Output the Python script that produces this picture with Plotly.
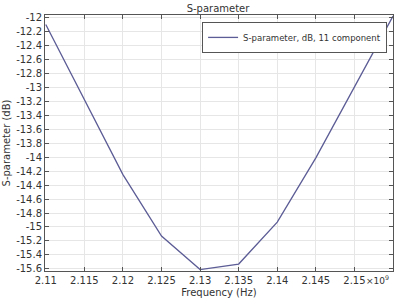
import plotly.graph_objects as go

freq = [2.11, 2.12, 2.125, 2.13, 2.135, 2.14, 2.145, 2.15, 2.155]
s11 = [-12.1, -14.25, -15.13, -15.61, -15.53, -14.93, -14.01, -13.0, -11.98]

xticks = [2.11, 2.115, 2.12, 2.125, 2.13, 2.135, 2.14, 2.145, 2.15]
xlabels = ["2.11", "2.115", "2.12", "2.125", "2.13", "2.135", "2.14", "2.145", "2.15"]
yticks = [-12, -12.2, -12.4, -12.6, -12.8, -13, -13.2, -13.4, -13.6, -13.8, -14,
          -14.2, -14.4, -14.6, -14.8, -15, -15.2, -15.4, -15.6]
ylabels = ["%g" % v for v in yticks]

font = "DejaVu Sans"
fig = go.Figure()
fig.add_trace(go.Scatter(x=freq, y=s11, mode="lines",
                         line=dict(color="#5c5c96", width=1.3),
                         name="S-parameter, dB, 11 component"))

axis_common = dict(showline=True, linecolor="#555555", linewidth=1, mirror="ticks",
                   ticks="inside", ticklen=4, tickcolor="#555555",
                   showgrid=True, gridcolor="#e6e6e6", gridwidth=1, zeroline=False,
                   tickfont=dict(family=font, size=10, color="#333333"))

fig.update_layout(
    width=400, height=302,
    margin=dict(l=43, r=6, t=15, b=23),
    paper_bgcolor="white", plot_bgcolor="white",
    font=dict(family=font, size=10, color="#333333"),
    title=dict(text="S-parameter", x=0.545, xanchor="center", y=0.985, yanchor="top",
               font=dict(family=font, size=10, color="#333333")),
    xaxis=dict(range=[2.1099, 2.155], tickvals=xticks, ticktext=xlabels,
               title=dict(text="Frequency (Hz)", standoff=3,
                          font=dict(family=font, size=10, color="#333333")),
               **axis_common),
    yaxis=dict(range=[-15.63, -11.965], tickvals=yticks, ticktext=ylabels,
               title=dict(text="S-parameter (dB)", standoff=3,
                          font=dict(family=font, size=10, color="#333333")),
               **axis_common),
    legend=dict(x=0.983, y=0.973, xanchor="right", yanchor="top",
                bgcolor="white", bordercolor="#555555", borderwidth=1,
                itemwidth=30, tracegroupgap=0,
                font=dict(family=font, size=8.5, color="#333333")),
    showlegend=True,
)
fig.add_annotation(text="×10<sup>9</sup>", xref="paper", yref="paper", x=0.995, y=0,
                   xanchor="right", yanchor="top", yshift=-1, showarrow=False,
                   font=dict(family=font, size=9, color="#333333"))
fig.write_html("out.html")
